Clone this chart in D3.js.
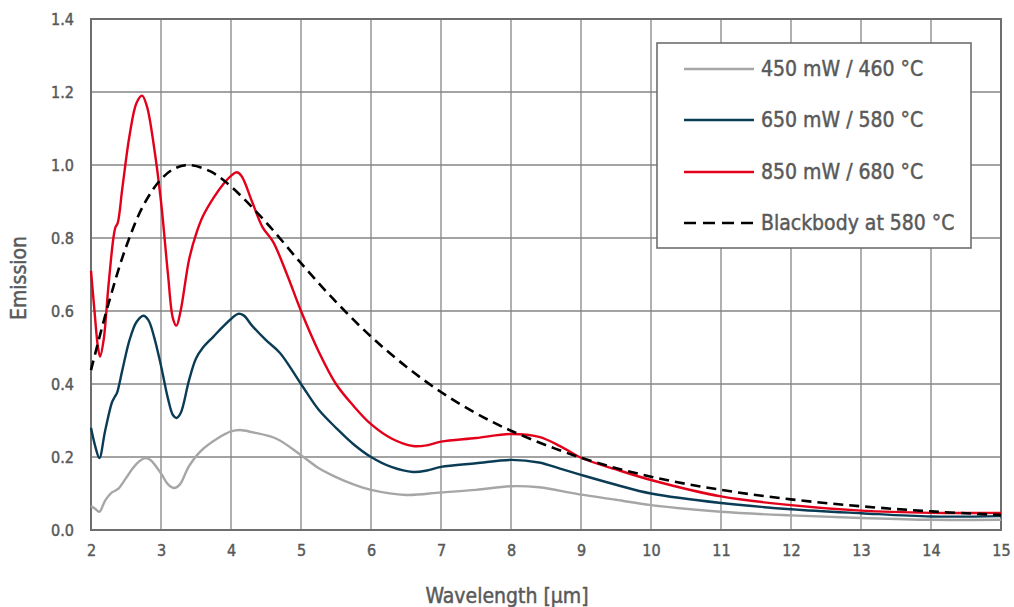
<!DOCTYPE html>
<html><head><meta charset="utf-8">
<script src="https://cdn.jsdelivr.net/npm/d3@7"></script>
<style>
body{margin:0;background:#fff;}
text{font-family:"Liberation Sans Narrow","DejaVu Sans Condensed",sans-serif;fill:#595959;stroke:#595959;stroke-width:0.45px;}
</style></head>
<body><svg id="c" width="1014" height="607"></svg>
<script>
const xTicks=[2,3,4,5,6,7,8,9,10,11,12,13,14,15];
const yTicks=[0,0.2,0.4,0.6,0.8,1.0,1.2,1.4];
const seriesNames=["450 mW / 460 °C","650 mW / 580 °C","850 mW / 680 °C","Blackbody at 580 °C"];
const gray450=[[2.0,0.066],[2.06,0.058],[2.12,0.05],[2.2,0.08],[2.3,0.103],[2.34,0.107],[2.4,0.115],[2.5,0.142],[2.6,0.17],[2.7,0.19],[2.78,0.197],[2.85,0.192],[3.0,0.155],[3.1,0.125],[3.19,0.115],[3.27,0.125],[3.4,0.175],[3.56,0.215],[3.8,0.25],[4.0,0.27],[4.13,0.274],[4.3,0.268],[4.65,0.25],[5.0,0.205],[5.25,0.17],[5.5,0.145],[5.75,0.125],[6.0,0.11],[6.5,0.096],[7.0,0.103],[7.5,0.11],[8.0,0.12],[8.4,0.117],[9.0,0.097],[9.5,0.083],[10,0.068],[11,0.05],[12,0.04],[13,0.033],[14,0.028],[15,0.028]];
const navy650=[[2.0,0.28],[2.06,0.23],[2.12,0.197],[2.2,0.27],[2.3,0.35],[2.34,0.365],[2.37,0.375],[2.45,0.44],[2.55,0.52],[2.65,0.57],[2.75,0.587],[2.82,0.575],[2.9,0.53],[3.0,0.45],[3.1,0.36],[3.17,0.315],[3.22,0.307],[3.28,0.32],[3.4,0.41],[3.5,0.47],[3.6,0.5],[3.75,0.53],[3.9,0.56],[4.0,0.578],[4.1,0.592],[4.18,0.588],[4.3,0.56],[4.5,0.52],[4.7,0.485],[5.0,0.40],[5.25,0.33],[5.5,0.28],[5.75,0.235],[6.0,0.20],[6.3,0.172],[6.6,0.159],[6.8,0.163],[7.0,0.173],[7.5,0.183],[8.0,0.192],[8.4,0.185],[8.7,0.168],[9.0,0.151],[9.5,0.124],[10,0.10],[11,0.074],[12,0.057],[13,0.046],[14,0.037],[15,0.038]];
const red850=[[2.0,0.71],[2.05,0.6],[2.1,0.5],[2.13,0.475],[2.18,0.52],[2.25,0.67],[2.32,0.80],[2.35,0.83],[2.38,0.84],[2.45,0.94],[2.55,1.08],[2.65,1.17],[2.73,1.19],[2.8,1.16],[2.9,1.05],[3.0,0.90],[3.1,0.70],[3.17,0.58],[3.22,0.56],[3.28,0.6],[3.4,0.74],[3.5,0.81],[3.6,0.86],[3.75,0.91],[3.9,0.95],[4.0,0.97],[4.08,0.98],[4.15,0.97],[4.3,0.90],[4.45,0.83],[4.6,0.79],[4.8,0.70],[5.0,0.60],[5.25,0.49],[5.5,0.40],[5.75,0.34],[6.0,0.29],[6.3,0.25],[6.6,0.23],[6.8,0.232],[7.0,0.242],[7.5,0.252],[8.0,0.263],[8.4,0.255],[8.7,0.23],[9.0,0.198],[9.5,0.166],[10,0.137],[11,0.092],[12,0.068],[13,0.053],[14,0.047],[15,0.047]];
const blackbody=[[2,0.438],[2.25,0.62],[2.5,0.775],[2.75,0.89],[3,0.961],[3.2,0.991],[3.4,1.0],[3.7,0.983],[4,0.941],[4.5,0.843],[5,0.731],[5.5,0.625],[6,0.53],[6.5,0.448],[7,0.378],[7.5,0.32],[8,0.272],[9,0.198],[10,0.146],[11,0.110],[12,0.084],[13,0.065],[14,0.051],[15,0.041]];
const colors=["#a6a6a6","#0b3c56","#e2001a","#000000"];
const data=[gray450,navy650,red850,blackbody];

const svg=d3.select("#c");
const L=91,R=1001,T=19,B=530;
const x=d3.scaleLinear().domain([2,15]).range([L,R]);
const y=d3.scaleLinear().domain([0,1.4]).range([B,T]);

const g=svg.append("g");
g.selectAll(".vg").data(xTicks).join("line").attr("x1",d=>x(d)).attr("x2",d=>x(d)).attr("y1",T).attr("y2",B).attr("stroke","#858585").attr("stroke-width",1.3);
g.selectAll(".hg").data(yTicks).join("line").attr("y1",d=>y(d)).attr("y2",d=>y(d)).attr("x1",L).attr("x2",R).attr("stroke","#858585").attr("stroke-width",1.3);

const xAxis=svg.append("g").attr("transform",`translate(0,${B})`).call(d3.axisBottom(x).tickValues(xTicks).tickSize(0).tickPadding(15).tickFormat(d3.format("d")));
const yAxis=svg.append("g").attr("transform",`translate(${L},0)`).call(d3.axisLeft(y).tickValues(yTicks).tickSize(0).tickPadding(17).tickFormat(d3.format(".1f")));
[xAxis,yAxis].forEach(a=>{a.select(".domain").remove();a.selectAll("text").style("font-size","16px").style("fill","#595959").style("font-family",'"Liberation Sans Narrow","DejaVu Sans Condensed",sans-serif');});

svg.append("rect").attr("x",L).attr("y",T).attr("width",R-L).attr("height",B-T).attr("fill","none").attr("stroke","#6e6e6e").attr("stroke-width",2);

const line=d3.line().x(d=>x(d[0])).y(d=>y(d[1])).curve(d3.curveCatmullRom.alpha(0.5));
data.forEach((s,i)=>{
  svg.append("path").attr("d",line(s)).attr("fill","none").attr("stroke",colors[i]).attr("stroke-width",i==3?2.6:2.4)
    .attr("stroke-dasharray",i==3?"10,6":null).attr("stroke-linejoin","round");
});

// legend
const lg=svg.append("g");
lg.append("rect").attr("x",657).attr("y",43).attr("width",314).attr("height",205).attr("fill","#fff").attr("stroke","#6e6e6e").attr("stroke-width",1.6);
const rowY=[69,120,172,223];
seriesNames.forEach((n,i)=>{
  lg.append("line").attr("x1",684).attr("x2",754).attr("y1",rowY[i]).attr("y2",rowY[i]).attr("stroke",colors[i]).attr("stroke-width",2.4).attr("stroke-dasharray",i==3?"12,7":null);
  lg.append("text").attr("x",761).attr("y",rowY[i]).attr("dy","0.35em").style("font-size","21px").text(n);
});

svg.append("text").attr("x",507).attr("y",603).attr("text-anchor","middle").style("font-size","21px").text("Wavelength [µm]");
svg.append("text").attr("transform","translate(26,278) rotate(-90)").attr("text-anchor","middle").style("font-size","21px").text("Emission");
</script></body></html>
